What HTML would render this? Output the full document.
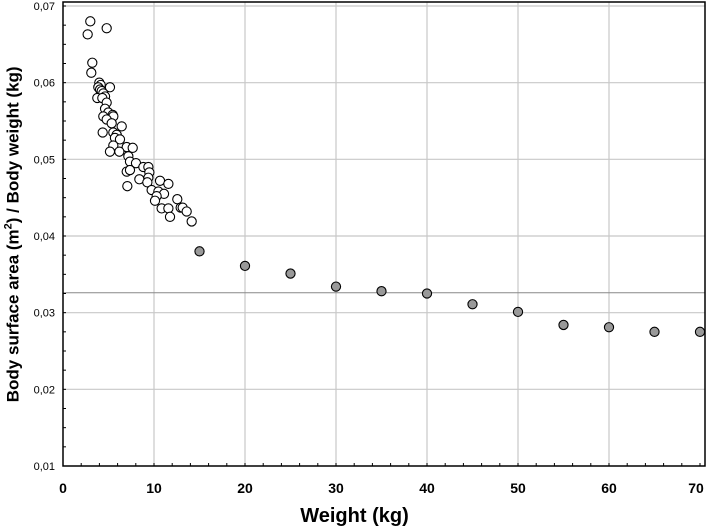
<!DOCTYPE html>
<html><head><meta charset="utf-8"><style>
body{margin:0;background:#fff;}
svg{display:block;font-family:"Liberation Sans",sans-serif;}
</style></head><body>
<svg id="c" width="709" height="530"></svg>
<script>
const openX=[3.0,2.71,4.80,3.22,3.11,3.99,4.14,3.88,5.16,4.07,4.25,4.43,4.62,3.77,4.32,4.80,4.62,4.98,5.46,4.43,5.53,4.80,5.35,6.45,4.36,5.53,5.90,5.71,6.26,5.53,7.0,7.66,5.16,6.19,7.18,7.36,8.02,8.83,9.38,7.0,7.36,9.49,9.38,8.39,10.66,11.58,9.27,7.07,9.74,10.48,11.10,10.29,10.11,12.56,10.84,11.58,12.93,13.15,13.59,11.76,14.14];
const openY=[0.0680,0.0663,0.0671,0.0626,0.0613,0.0600,0.0597,0.0594,0.0594,0.0591,0.0589,0.0586,0.0582,0.0580,0.0580,0.0574,0.0566,0.0561,0.0558,0.0556,0.0556,0.0552,0.0547,0.0543,0.0535,0.0535,0.0532,0.0528,0.0526,0.0518,0.0516,0.0515,0.0510,0.0510,0.0504,0.0497,0.0495,0.0490,0.0490,0.0484,0.0486,0.0483,0.0476,0.0474,0.0472,0.0468,0.0470,0.0465,0.0460,0.0458,0.0455,0.0452,0.0446,0.0448,0.0436,0.0436,0.0437,0.0437,0.0432,0.0425,0.0419];
const grayX=[15,20,25,30,35,40,45,50,55,60,65,70];
const grayY=[0.0380,0.0361,0.0351,0.0334,0.0328,0.0325,0.0311,0.0301,0.0284,0.0281,0.0275,0.0275];
const xTicks=[0,10,20,30,40,50,60,70];
const yTicks=[0.01,0.02,0.03,0.04,0.05,0.06,0.07];
const refLine=0.0326;
const svg=document.getElementById('c');
const NS='http://www.w3.org/2000/svg';
const L=63,R=700,T=6,B=466;
const sx=v=>L+(v-0)/70*(R-L);
const sy=v=>B-(v-0.01)/0.06*(B-T);
function mk(t,a,p){const e=document.createElementNS(NS,t);for(const k in a)e.setAttribute(k,a[k]);(p||svg).appendChild(e);return e;}
// grid
xTicks.forEach(v=>{if(v>0&&v<70){const g=mk('line',{x1:sx(v),x2:sx(v),y1:2,y2:B,stroke:'#c8c8c8','stroke-width':1.2});

}});
yTicks.forEach(v=>{if(v>0.01){const g=mk('line',{x1:L,x2:705,y1:sy(v),y2:sy(v),stroke:'#c8c8c8','stroke-width':1.2});

}});
const rl=mk('line',{x1:L,x2:705,y1:sy(refLine),y2:sy(refLine),stroke:'#888','stroke-width':1});


// frame
const fr=mk('rect',{x:L,y:2,width:705-L,height:B-2,fill:'none',stroke:'#000','stroke-width':1.5});


// minor ticks
for(let v=0;v<=70;v+=2){const t=mk('line',{x1:sx(v),x2:sx(v),y1:B,y2:B-3,stroke:'#000'});

}
for(let v=0.01;v<=0.0701;v+=0.0025){const t=mk('line',{x1:L,x2:L+3,y1:sy(v),y2:sy(v),stroke:'#000'});

}
// tick labels
xTicks.forEach(v=>{const t=mk('text',{x:sx(v)-(v==70?4:0),y:493,'text-anchor':'middle','font-size':14,'font-weight':'bold'});t.textContent=v;

});
yTicks.forEach(v=>{const t=mk('text',{x:55,y:sy(v)+4,'text-anchor':'end','font-size':11});t.textContent=v.toFixed(2).replace('.',',');

});
// points
openX.forEach((x,i)=>{const c=mk('circle',{cx:sx(x),cy:sy(openY[i]),r:4.6,fill:'#fff',stroke:'#000','stroke-width':1.1});

});
grayX.forEach((x,i)=>{const c=mk('circle',{cx:sx(x),cy:sy(grayY[i]),r:4.6,fill:'#999',stroke:'#000','stroke-width':1.1});

});
</script>
<svg width="0" height="0"></svg>
<div style="position:absolute;left:0;top:0;width:709px;height:530px;pointer-events:none;">
<div style="position:absolute;left:0;width:709px;top:505px;text-align:center;font:bold 20px 'Liberation Sans',sans-serif;">Weight (kg)</div>
<div style="position:absolute;left:-217px;top:224px;width:460px;text-align:center;transform:rotate(-90deg);font:bold 17px 'Liberation Sans',sans-serif;">Body surface area (m<sup style="font-size:11px">2</sup>) / Body weight (kg)</div>
</div>
</body></html>
